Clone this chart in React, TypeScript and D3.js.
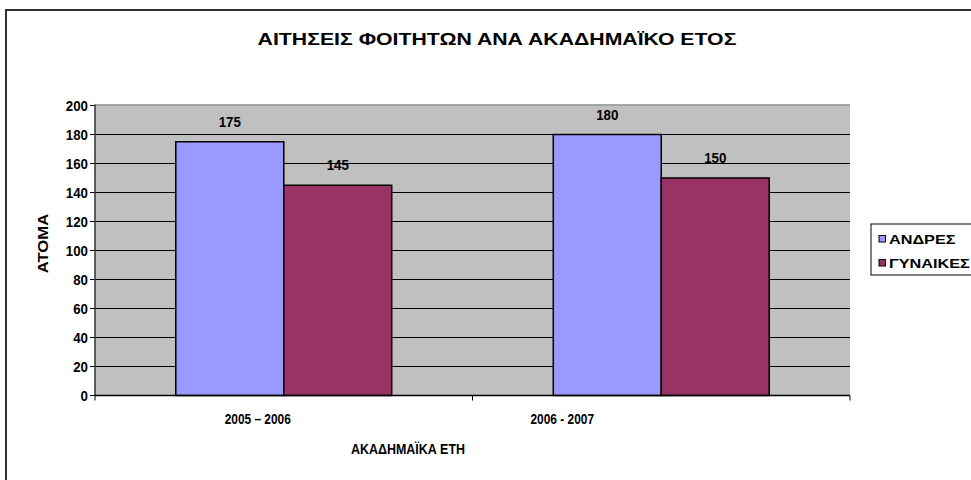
import React from "react";
import * as d3 from "d3";

const categories = ["2005 – 2006", "2006 - 2007"];
const seriesNames = ["ΑΝΔΡΕΣ", "ΓΥΝΑΙΚΕΣ"];
const men = [175, 180];
const women = [145, 150];
const yTicks = [0, 20, 40, 60, 80, 100, 120, 140, 160, 180, 200];
const colors = ["#9999FF", "#993366"];
const title = "ΑΙΤΗΣΕΙΣ ΦΟΙΤΗΤΩΝ ΑΝΑ ΑΚΑΔΗΜΑΪΚΟ ΕΤΟΣ";
const yTitle = "ΑΤΟΜΑ";
const xTitle = "ΑΚΑΔΗΜΑΪΚΑ ΕΤΗ";
// observed label shifts relative to band centre in the reference
const catLabelShift = [-26, -99];

const W = 971;
const H = 480;
const plot = { left: 95, right: 850, top: 105.5, bottom: 395.5 };
const font = "'Liberation Sans', Arial, sans-serif";
const bold: React.CSSProperties = { fontWeight: 700, fontFamily: font };

function SText(props: {
  x: number;
  y: number;
  sx: number;
  size: number;
  anchor?: string;
  rotate?: number;
  children: React.ReactNode;
}) {
  const { x, y, sx, size, anchor = "middle", rotate = 0, children } = props;
  return (
    <g transform={`translate(${x},${y}) rotate(${rotate}) scale(${sx},1)`}>
      <text x={0} y={0} textAnchor={anchor} style={bold} fontSize={size} fill="#000">
        {children}
      </text>
    </g>
  );
}

export default function App() {
  const x = d3
    .scaleBand<string>()
    .domain(categories)
    .range([plot.left, plot.right])
    .paddingInner(0)
    .paddingOuter(0);
  const y = d3.scaleLinear().domain([0, 200]).range([plot.bottom, plot.top]);
  const bw = x.bandwidth();
  const barW = bw * 0.286;
  const series = [men, women];

  return (
    <svg
      width={W}
      height={H}
      style={{ position: "absolute", left: 0, top: 0, background: "#fff" }}
    >
      <rect x={0} y={0} width={W} height={H} fill="#fff" />
      {/* outer frame */}
      <rect x={6} y={10} width={1100} height={600} fill="none" stroke="#333" strokeWidth={2} />
      {/* title */}
      <SText x={497} y={44.5} sx={1.25} size={17}>
        {title}
      </SText>
      {/* plot area */}
      <rect
        x={plot.left}
        y={plot.top}
        width={plot.right - plot.left}
        height={plot.bottom - plot.top}
        fill="#C0C0C0"
      />
      <line x1={plot.left} x2={plot.right} y1={plot.top - 0.5} y2={plot.top - 0.5} stroke="#8a8a8a" strokeWidth={1.5} />
      {yTicks.map((t) => (
        <g key={t}>
          {t > 0 && t < 200 && (
            <line x1={plot.left} x2={plot.right} y1={y(t)} y2={y(t)} stroke="#000" strokeWidth={1} />
          )}
          <line x1={plot.left - 5} x2={plot.left} y1={y(t)} y2={y(t)} stroke="#000" strokeWidth={1} />
          <SText x={plot.left - 7} y={y(t) + 5} sx={0.95} size={14} anchor="end">
            {t}
          </SText>
        </g>
      ))}
      {/* bars */}
      {categories.map((c, ci) => {
        const center = (x(c) as number) + bw / 2;
        return series.map((s, si) => {
          const bx = center - barW + si * barW;
          const v = s[ci];
          return (
            <g key={c + si}>
              <rect
                x={bx}
                y={y(v)}
                width={barW}
                height={plot.bottom - y(v)}
                fill={colors[si]}
                stroke="#000"
                strokeWidth={1.5}
              />
              <SText x={bx + barW / 2} y={y(v) - 15} sx={0.95} size={14}>
                {v}
              </SText>
            </g>
          );
        });
      })}
      {/* axes */}
      <line x1={plot.left} x2={plot.left} y1={plot.top - 1} y2={plot.bottom} stroke="#333" strokeWidth={1.5} />
      <line x1={plot.left} x2={plot.right} y1={plot.bottom} y2={plot.bottom} stroke="#000" strokeWidth={1.5} />
      {[...categories.map((c) => x(c) as number), plot.right].map((p, i) => (
        <line key={i} x1={p} x2={p} y1={plot.bottom} y2={plot.bottom + 5} stroke="#000" strokeWidth={1} />
      ))}
      {categories.map((c, i) => (
        <SText key={c} x={(x(c) as number) + bw / 2 + catLabelShift[i]} y={423.5} sx={0.85} size={14}>
          {c}
        </SText>
      ))}
      <SText x={408} y={453.5} sx={0.83} size={15}>
        {xTitle}
      </SText>
      <SText x={48} y={243.5} sx={1.15} size={14.5} rotate={-90}>
        {yTitle}
      </SText>
      {/* legend */}
      <rect x={871} y={224} width={120} height={51} fill="#fff" stroke="#000" strokeWidth={1} />
      {seriesNames.map((n, i) => (
        <g key={n}>
          <rect x={879} y={235.5 + i * 24} width={6.5} height={6.5} fill={colors[i]} stroke="#000" strokeWidth={1} />
          <SText x={889} y={244 + i * 24} sx={1.25} size={13} anchor="start">
            {n}
          </SText>
        </g>
      ))}
    </svg>
  );
}
